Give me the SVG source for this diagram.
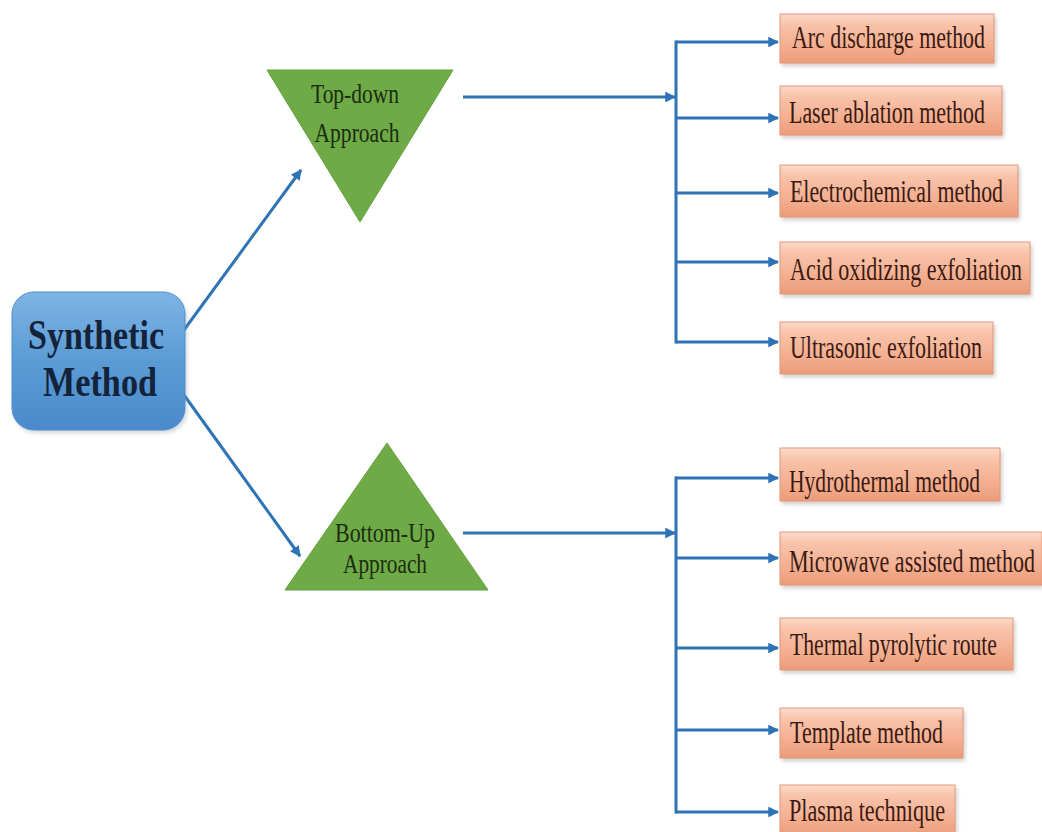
<svg xmlns="http://www.w3.org/2000/svg" width="1042" height="832" viewBox="0 0 1042 832">
<style>
.box{fill:url(#peach);stroke:#e3987a;stroke-width:1}
.lbl{font-family:"Liberation Serif","Times New Roman",serif;font-size:22px;fill:#3a1a12}
.tri{fill:#6eaa45;stroke:#64a03c;stroke-width:1}
.tlbl{font-family:"Liberation Serif","Times New Roman",serif;font-size:21.5px;fill:#1b2d12;text-anchor:middle}
.main{font-family:"Liberation Serif","Times New Roman",serif;font-size:34px;font-weight:bold;fill:#13233a;text-anchor:middle}
.con{stroke:#2e74b5;stroke-width:3;fill:none}
.arr{marker-end:url(#ah)}
.shadow{fill:#9a8a80;opacity:0.45;filter:url(#blur)}
</style>
<defs>
<linearGradient id="peach" x1="0" y1="0" x2="0" y2="1">
<stop offset="0" stop-color="#fcdccc"/>
<stop offset="0.2" stop-color="#f8c4ab"/>
<stop offset="0.6" stop-color="#f5b193"/>
<stop offset="1" stop-color="#eb9c79"/>
</linearGradient>
<linearGradient id="blue" x1="0" y1="0" x2="0" y2="1">
<stop offset="0" stop-color="#7fb4e4"/>
<stop offset="0.5" stop-color="#5b9bd5"/>
<stop offset="1" stop-color="#4b8acb"/>
</linearGradient>
<filter id="blur" x="-10%" y="-20%" width="120%" height="140%"><feGaussianBlur stdDeviation="2"/></filter>
<marker id="ah" viewBox="0 0 10 10" refX="9" refY="5" markerWidth="3.6" markerHeight="3.6" orient="auto" markerUnits="strokeWidth">
<path d="M0,0 L10,5 L0,10 z" fill="#2e74b5"/>
</marker>
</defs>
<rect width="1042" height="832" fill="#ffffff"/>

<g id="connectors">
<line class="con arr" x1="184" y1="330" x2="301" y2="170"/>
<line class="con arr" x1="184" y1="395" x2="300" y2="556"/>
<line class="con arr" x1="463" y1="97" x2="675" y2="97"/>
<line class="con arr" x1="463" y1="533" x2="675" y2="533"/>
<line class="con" x1="676" y1="40.5" x2="676" y2="343.5"/>
<line class="con" x1="676" y1="476.5" x2="676" y2="813.5"/>
<line class="con arr" x1="676" y1="42" x2="778" y2="42"/>
<line class="con arr" x1="676" y1="118" x2="778" y2="118"/>
<line class="con arr" x1="676" y1="193" x2="778" y2="193"/>
<line class="con arr" x1="676" y1="262" x2="778" y2="262"/>
<line class="con arr" x1="676" y1="342" x2="778" y2="342"/>
<line class="con arr" x1="676" y1="478" x2="778" y2="478"/>
<line class="con arr" x1="676" y1="558" x2="778" y2="558"/>
<line class="con arr" x1="676" y1="648" x2="778" y2="648"/>
<line class="con arr" x1="676" y1="730" x2="778" y2="730"/>
<line class="con arr" x1="676" y1="812" x2="778" y2="812"/>
</g>

<g id="synthetic-method">
<rect x="14" y="295" width="173" height="138" rx="22" fill="#8a9ab0" opacity="0.4" filter="url(#blur)"/>
<rect x="12" y="292" width="173" height="138" rx="22" fill="url(#blue)" stroke="#4f8fcc" stroke-width="1"/>
<text class="main" transform="translate(96,349) scale(1,1.25)" x="0" y="0" textLength="136" lengthAdjust="spacingAndGlyphs">Synthetic</text>
<text class="main" transform="translate(100,396) scale(1,1.25)" x="0" y="0" textLength="114" lengthAdjust="spacingAndGlyphs">Method</text>
</g>

<g id="top-down">
<polygon class="tri" points="267,70 453,70 360,222"/>
<text class="tlbl" transform="translate(355,103) scale(1,1.25)" x="0" y="0" textLength="88" lengthAdjust="spacingAndGlyphs">Top-down</text>
<text class="tlbl" transform="translate(357,142) scale(1,1.25)" x="0" y="0" textLength="85" lengthAdjust="spacingAndGlyphs">Approach</text>
</g>

<g id="bottom-up">
<polygon class="tri" points="387,443 488,590 285,590"/>
<text class="tlbl" transform="translate(385,542) scale(1,1.25)" x="0" y="0" textLength="100" lengthAdjust="spacingAndGlyphs">Bottom-Up</text>
<text class="tlbl" transform="translate(385,573) scale(1,1.25)" x="0" y="0" textLength="84" lengthAdjust="spacingAndGlyphs">Approach</text>
</g>

<g id="arc-discharge">
<rect class="shadow" x="782" y="17" width="214" height="49"/>
<rect class="box" x="780" y="14" width="214" height="49"/>
<text class="lbl" transform="translate(792,48) scale(1,1.45)" x="0" y="0" textLength="193" lengthAdjust="spacingAndGlyphs">Arc discharge method</text>
</g>
<g id="laser-ablation">
<rect class="shadow" x="782" y="89" width="222" height="49"/>
<rect class="box" x="780" y="86" width="222" height="49"/>
<text class="lbl" transform="translate(789,123) scale(1,1.45)" x="0" y="0" textLength="196" lengthAdjust="spacingAndGlyphs">Laser ablation method</text>
</g>
<g id="electrochemical">
<rect class="shadow" x="782" y="168" width="238" height="52"/>
<rect class="box" x="780" y="165" width="238" height="52"/>
<text class="lbl" transform="translate(790,202) scale(1,1.45)" x="0" y="0" textLength="213" lengthAdjust="spacingAndGlyphs">Electrochemical method</text>
</g>
<g id="acid-oxidizing">
<rect class="shadow" x="782" y="245" width="250" height="52"/>
<rect class="box" x="780" y="242" width="250" height="52"/>
<text class="lbl" transform="translate(790,280) scale(1,1.45)" x="0" y="0" textLength="232" lengthAdjust="spacingAndGlyphs">Acid oxidizing exfoliation</text>
</g>
<g id="ultrasonic">
<rect class="shadow" x="782" y="325" width="213" height="52"/>
<rect class="box" x="780" y="322" width="213" height="52"/>
<text class="lbl" transform="translate(790,358) scale(1,1.45)" x="0" y="0" textLength="192" lengthAdjust="spacingAndGlyphs">Ultrasonic exfoliation</text>
</g>
<g id="hydrothermal">
<rect class="shadow" x="782" y="451" width="220" height="53"/>
<rect class="box" x="780" y="448" width="220" height="53"/>
<text class="lbl" transform="translate(789,492) scale(1,1.45)" x="0" y="0" textLength="191" lengthAdjust="spacingAndGlyphs">Hydrothermal method</text>
</g>
<g id="microwave">
<rect class="shadow" x="782" y="535" width="262" height="53"/>
<rect class="box" x="780" y="532" width="262" height="53"/>
<text class="lbl" transform="translate(789,572) scale(1,1.45)" x="0" y="0" textLength="246" lengthAdjust="spacingAndGlyphs">Microwave assisted method</text>
</g>
<g id="thermal-pyrolytic">
<rect class="shadow" x="782" y="621" width="233" height="52"/>
<rect class="box" x="780" y="618" width="233" height="52"/>
<text class="lbl" transform="translate(790,655) scale(1,1.45)" x="0" y="0" textLength="207" lengthAdjust="spacingAndGlyphs">Thermal pyrolytic route</text>
</g>
<g id="template">
<rect class="shadow" x="782" y="711" width="183" height="50"/>
<rect class="box" x="780" y="708" width="183" height="50"/>
<text class="lbl" transform="translate(790,743) scale(1,1.45)" x="0" y="0" textLength="153" lengthAdjust="spacingAndGlyphs">Template method</text>
</g>
<g id="plasma">
<rect class="shadow" x="782" y="788" width="175" height="52"/>
<rect class="box" x="780" y="785" width="175" height="52"/>
<text class="lbl" transform="translate(789,821) scale(1,1.45)" x="0" y="0" textLength="156" lengthAdjust="spacingAndGlyphs">Plasma technique</text>
</g>
</svg>
